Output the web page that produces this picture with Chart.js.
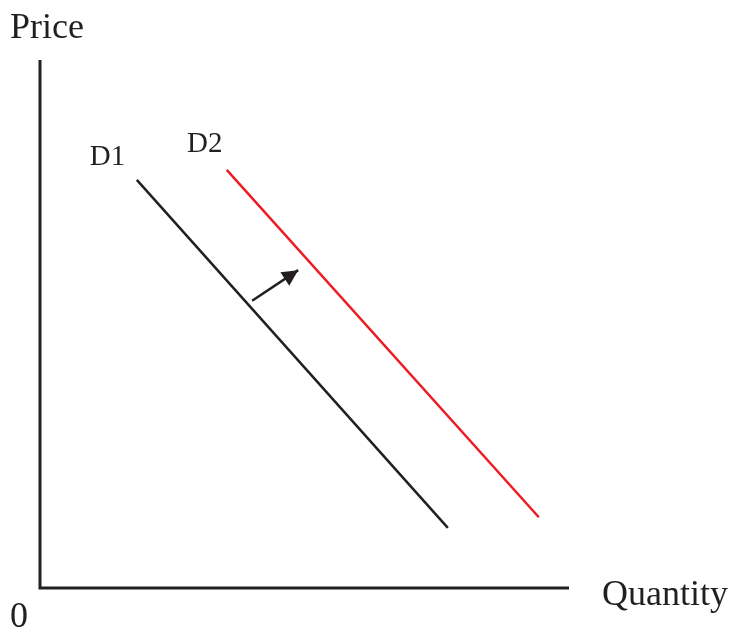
<!DOCTYPE html>
<html>
<head>
<meta charset="utf-8">
<script src="https://cdn.jsdelivr.net/npm/chart.js@4.4.1/dist/chart.umd.min.js"></script>
<style>
  body { margin: 0; background: #fff; }
</style>
</head>
<body>
<canvas id="myChart" width="732" height="632"></canvas>
<script>
const ctx = document.getElementById('myChart');

// demand curves (quantity, price)
const d1 = [{x: 18.3, y: 77.3}, {x: 77.1, y: 11.4}];
const d2 = [{x: 35.3, y: 79.2}, {x: 94.3, y: 13.4}];
const shift = [{x: 40.1, y: 54.4}, {x: 48.8, y: 60.2}];
const curveLabels = ['D1', 'D2'];
const labelAt = [{x: 9.4, y: 80.1}, {x: 27.8, y: 82.6}];

const ink = '#231f20';
const red = '#ed1c24';
const serif = '"Liberation Serif", "Times New Roman", serif';

const textPlugin = {
  id: 'texts',
  afterDatasetsDraw(chart) {
    const c = chart.ctx;
    const area = chart.chartArea;
    const xs = chart.scales.x, ys = chart.scales.y;
    c.save();
    c.fillStyle = ink;
    c.textBaseline = 'alphabetic';
    c.textAlign = 'left';

    // axis lines
    c.strokeStyle = ink;
    c.lineWidth = 3;
    c.lineCap = 'butt';
    c.beginPath();
    c.moveTo(area.left, area.top);
    c.lineTo(area.left, area.bottom);
    c.lineTo(area.right, area.bottom);
    c.stroke();

    c.font = '36px ' + serif;
    c.fillText('Price', area.left - 30, area.top - 22);
    c.fillText('Quantity', area.right + 33, area.bottom + 17);
    c.fillText('0', area.left - 30, area.bottom + 39);

    c.font = '29px ' + serif;
    curveLabels.forEach((t, i) => {
      c.fillText(t, xs.getPixelForValue(labelAt[i].x), ys.getPixelForValue(labelAt[i].y));
    });

    // arrow head
    const x0 = xs.getPixelForValue(shift[0].x), y0 = ys.getPixelForValue(shift[0].y);
    const x1 = xs.getPixelForValue(shift[1].x), y1 = ys.getPixelForValue(shift[1].y);
    const a = Math.atan2(y1 - y0, x1 - x0);
    const len = 16, half = 8;
    c.beginPath();
    c.moveTo(x1, y1);
    c.lineTo(x1 - len * Math.cos(a) + half * Math.sin(a), y1 - len * Math.sin(a) - half * Math.cos(a));
    c.lineTo(x1 - len * Math.cos(a) - half * Math.sin(a), y1 - len * Math.sin(a) + half * Math.cos(a));
    c.closePath();
    c.fill();
    c.restore();
  }
};

new Chart(ctx, {
  type: 'scatter',
  data: {
    datasets: [
      { data: d1, showLine: true, borderColor: ink, borderWidth: 2.5, pointRadius: 0 },
      { data: d2, showLine: true, borderColor: red, borderWidth: 2.5, pointRadius: 0 },
      { data: shift, showLine: true, borderColor: ink, borderWidth: 2.5, pointRadius: 0 }
    ]
  },
  options: {
    responsive: false,
    animation: false,
    layout: { padding: { left: 40, right: 163, top: 60, bottom: 44 } },
    plugins: { legend: { display: false }, tooltip: { enabled: false } },
    scales: {
      x: { type: 'linear', min: 0, max: 100, display: false },
      y: { type: 'linear', min: 0, max: 100, display: false }
    }
  },
  plugins: [textPlugin]
});
</script>
</body>
</html>
